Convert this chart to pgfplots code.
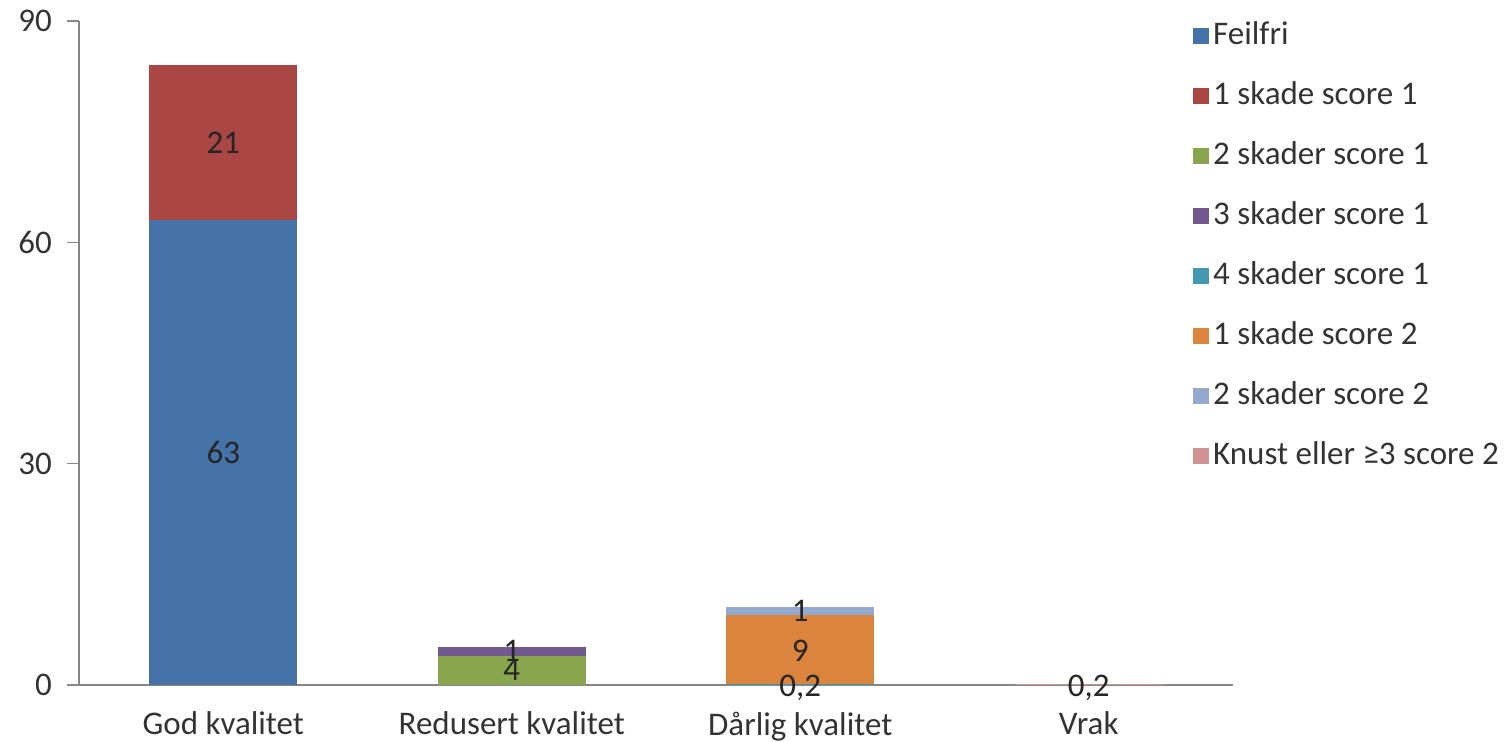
\documentclass[border=0pt]{standalone}
\usepackage{pgfplots}
\pgfplotsset{compat=1.18}
\usepackage{fontspec}
\setmainfont{Carlito}
\definecolor{c1}{HTML}{4572A7}
\definecolor{c2}{HTML}{AA4643}
\definecolor{c3}{HTML}{89A54E}
\definecolor{c4}{HTML}{71588F}
\definecolor{c5}{HTML}{4198AF}
\definecolor{c6}{HTML}{DB843D}
\definecolor{c7}{HTML}{93A9CF}
\definecolor{c8}{HTML}{D19392}
\definecolor{axgray}{HTML}{868686}
\definecolor{txt}{HTML}{333333}
\begin{document}
\begin{tikzpicture}
\useasboundingbox (0,0) rectangle (756pt,370.5pt);
\pgfplotsset{
  common/.style={
    at={(39.5pt,28pt)}, anchor=south west,
    scale only axis, width=577pt, height=332pt,
    xmin=-0.5, xmax=3.5, ymin=0, ymax=90,
  }
}
\begin{axis}[
  common,
  ybar stacked, bar width=74pt,
  axis x line*=bottom, axis y line*=left,
  axis line style={draw=axgray, line width=0.6pt, -},
  xtick={0,1,2,3},
  xticklabels={God kvalitet, Redusert kvalitet, Dårlig kvalitet, Vrak},
  ytick={0,30,60,90},
  major x tick style={draw=none},
  major y tick style={draw=axgray, line width=0.6pt},
  tick align=outside, major tick length=6pt,
  tick label style={font=\fontsize{16.5}{18}\selectfont, text=txt},
  /pgf/number format/assume math mode=true,
  xticklabel style={yshift=-4pt},
  yticklabel style={xshift=-4pt},
  legend style={at={(rel axis cs:0.960,1.014)}, anchor=north west, draw=none, fill=none,
    font=\fontsize{16.5}{18}\selectfont, text=txt, row sep=10.5pt,
    nodes={inner sep=2pt, text height=12pt, text depth=3.5pt}},
  legend cell align=left,
  legend image code/.code={\fill[#1] (0pt,-4pt) rectangle (8pt,4pt);},
]
\addplot[fill=c1, draw=none] coordinates {(0,63) (1,0) (2,0) (3,0)};
\addplot[fill=c2, draw=none] coordinates {(0,21) (1,0) (2,0) (3,0)};
\addplot[fill=c3, draw=none] coordinates {(0,0) (1,3.9) (2,0) (3,0)};
\addplot[fill=c4, draw=none] coordinates {(0,0) (1,1.2) (2,0) (3,0)};
\addplot[fill=c5, draw=none] coordinates {(0,0) (1,0) (2,0.2) (3,0)};
\addplot[fill=c6, draw=none] coordinates {(0,0) (1,0) (2,9.3) (3,0)};
\addplot[fill=c7, draw=none] coordinates {(0,0) (1,0) (2,1.1) (3,0)};
\addplot[fill=c8, draw=none] coordinates {(0,0) (1,0) (2,0) (3,0.2)};
\legend{Feilfri, 1 skade score 1, 2 skader score 1, 3 skader score 1, 4 skader score 1, 1 skade score 2, 2 skader score 2, Knust eller ≥3 score 2}
\end{axis}
\begin{axis}[
  common, hide axis, clip=false,
  nodes near coords, point meta=explicit symbolic,
  nodes near coords align={center},
  every node near coord/.append style={font=\fontsize{16.5}{18}\selectfont, text=black!85, inner sep=0pt},
]
\addplot[draw=none, mark=none] table[meta=lab] {
x y lab
0 31.5 63
0 73.5 21
1 2.1 4
1 4.6 1
2 -0.4 0,2
2 4.6 9
2 10.0 1
3 -0.4 0,2
};
\end{axis}
\end{tikzpicture}
\end{document}
